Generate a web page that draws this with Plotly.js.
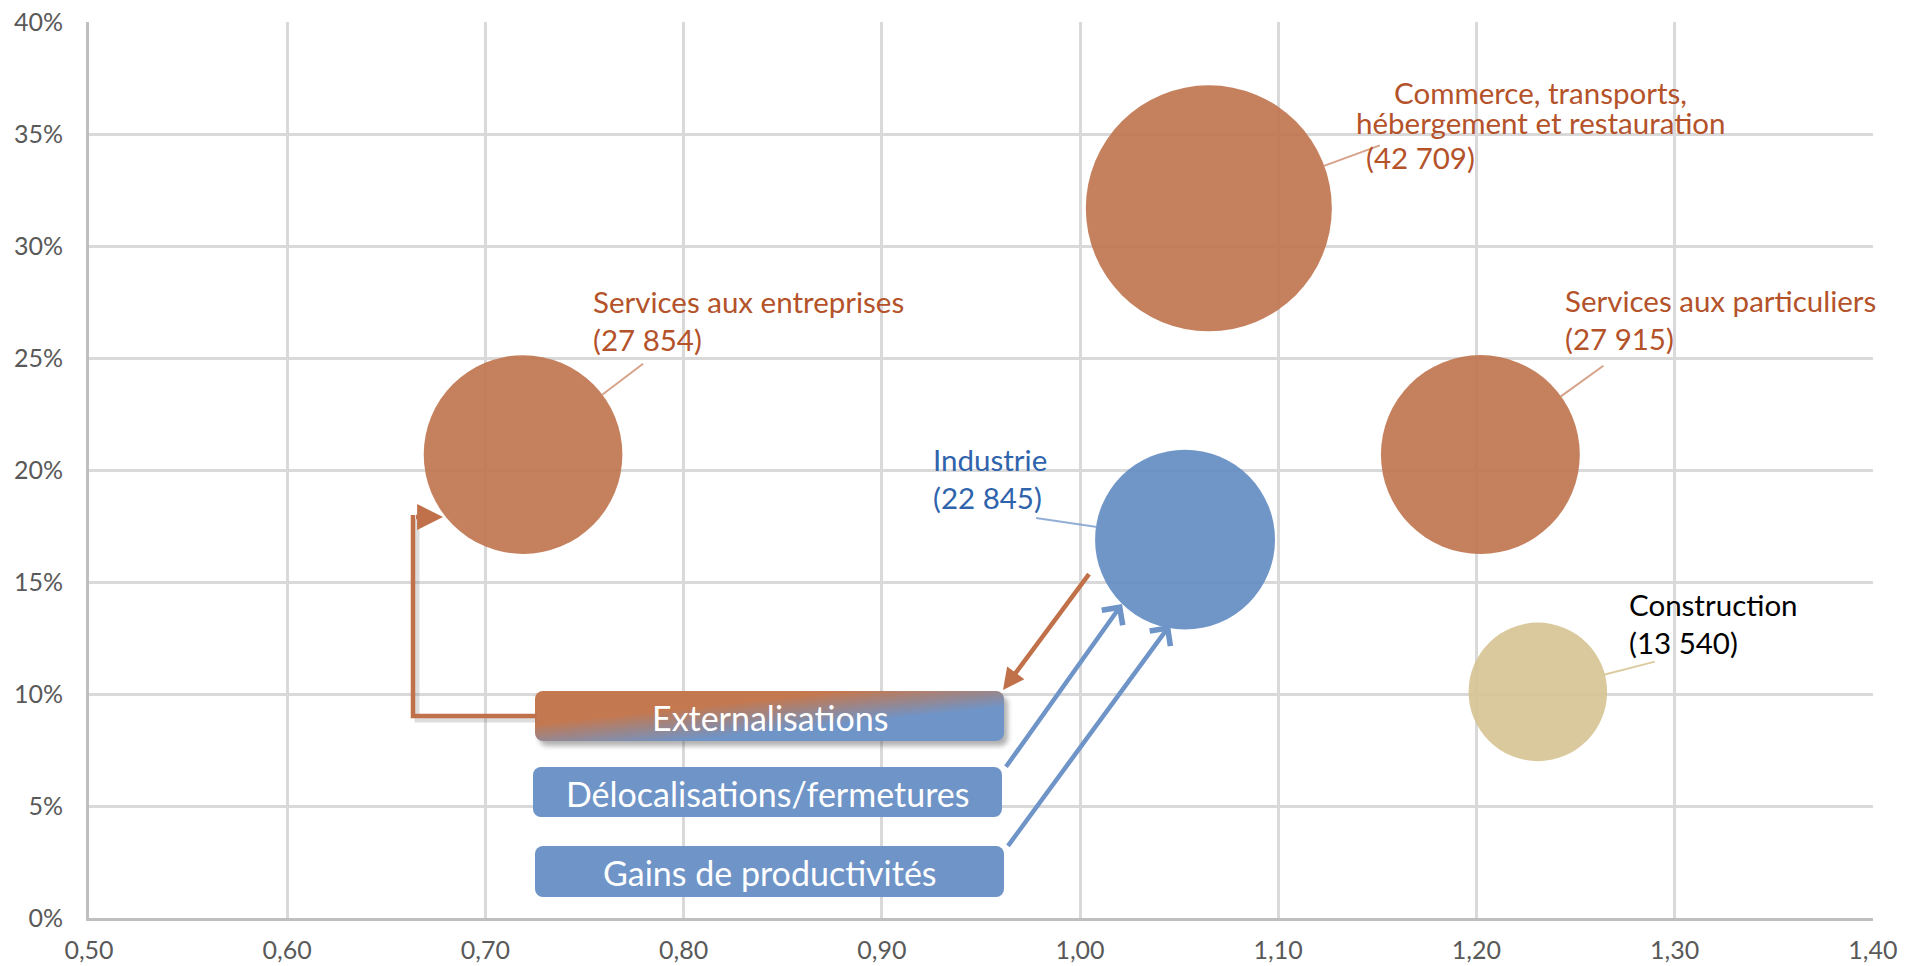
<!DOCTYPE html>
<html><head><meta charset="utf-8">
<script src="https://cdn.plot.ly/plotly-3.0.1.min.js"></script>
<style>html,body{margin:0;padding:0;background:#fff;} #chart{width:1905px;height:966px;}</style>
</head><body><div id="chart"></div>
<script>
// ---- Data ----
const sectors = ['Services aux entreprises', 'Commerce, transports, hébergement et restauration', 'Services aux particuliers', 'Industrie', 'Construction'];
const labelLines = [['Services aux entreprises'], ['Commerce, transports,', 'hébergement et restauration'], ['Services aux particuliers'], ['Industrie'], ['Construction']];
const ratio = [0.719, 1.065, 1.202, 1.053, 1.231];      // x
const share = [0.207, 0.317, 0.207, 0.169, 0.101];      // y
const emploi = [27854, 42709, 27915, 22845, 13540];     // bubble size
const boxLabels = ['Externalisations', 'Délocalisations/fermetures', 'Gains de productivités'];

// ---- Styles ----
const FONT = 'Lato, "Open Sans", sans-serif';
const BROWN = '#BF724B', BLUE = '#6089C1', TAN = '#D5C391';
const bubbleColors = [BROWN, BROWN, BROWN, BLUE, TAN];
const textColors = ['#B4522A', '#B4522A', '#B4522A', '#2F63AC', '#000000'];
const leaderColors = ['rgba(205,140,110,0.8)', 'rgba(205,140,110,0.8)', 'rgba(205,140,110,0.8)', 'rgba(120,155,205,0.8)', 'rgba(215,195,145,0.85)'];
const maxDiam = 246;
const maxEmp = Math.max(...emploi);
const sizeref = 2 * maxEmp / (maxDiam * maxDiam);
const radius = v => (maxDiam / 2) * Math.sqrt(v / maxEmp);
const fmt = v => '(' + String(v).replace(/\B(?=(\d{3})+(?!\d))/g, ' ') + ')';

// label placement (pixel offsets from bubble centre): [xshift, yshift, anchor]
const labelPos = [[68, 134, 'left'], [332, 101, 'center'], [83, 135, 'left'], [-254, 61, 'left'], [89, 68, 'left']];
const leaderEnd = [[123, -93], [174, -64], [126, -91], [-152, -22], [120, -31]];

// plot area in pixels
const L = 89, R = 1873, T = 22, B = 918;
const px = x => (x - L) / (R - L);
const py = y => (B - y) / (B - T);

const trace = {
  type: 'scatter', mode: 'markers', x: ratio, y: share, text: sectors,
  hovertemplate: '%{text}<br>%{x:.2f} ; %{y:.1%}<extra></extra>',
  marker: { size: emploi, sizemode: 'area', sizeref: sizeref, color: bubbleColors, opacity: 0.9, line: { width: 0 } }
};

const annotations = [];
sectors.forEach((s, i) => {
  // leader line
  annotations.push({ x: ratio[i], y: share[i], xref: 'x', yref: 'y', showarrow: true, arrowhead: 0,
    arrowwidth: 2, arrowcolor: leaderColors[i], ax: leaderEnd[i][0], ay: leaderEnd[i][1], standoff: radius(emploi[i]) - 1 });
  const [xs, ys, anc] = labelPos[i];
  const f = { family: FONT, size: 29.5, color: textColors[i] };
  if (labelLines[i].length > 1) {
    labelLines[i].forEach((ln, k) => {
      annotations.push({ x: ratio[i], y: share[i], xref: 'x', yref: 'y', showarrow: false, text: ln,
        xanchor: 'center', yanchor: 'middle', xshift: xs, yshift: ys + 15 - 30 * k, font: f, borderpad: 0 });
    });
    annotations.push({ x: ratio[i], y: share[i], xref: 'x', yref: 'y', showarrow: false, text: fmt(emploi[i]),
      xanchor: 'left', yanchor: 'middle', xshift: 155, yshift: 51, font: f });
  } else {
    annotations.push({ x: ratio[i], y: share[i], xref: 'x', yref: 'y', showarrow: false,
      text: labelLines[i][0] + '<br>' + fmt(emploi[i]), align: 'left',
      xanchor: anc, yanchor: 'middle', xshift: xs, yshift: ys, font: f });
  }
});

// flow boxes
const boxes = [[535, 691, 1004, 741], [533, 767, 1002, 817], [535, 846, 1004, 897]];
function boxSVG(w, h, kind) {
  let defs = '', fill, shadow = '';
  if (kind === 'grad') {
    defs = '<defs><linearGradient id="g" x1="0" y1="0" x2="1" y2="1"><stop offset="0.33" stop-color="#C4784F"/><stop offset="0.66" stop-color="#6F94C7"/></linearGradient>' +
      '<filter id="s" x="-5%" y="-20%" width="110%" height="150%"><feGaussianBlur stdDeviation="2.5"/></filter></defs>';
    fill = 'url(#g)';
    shadow = `<rect x="4" y="5" width="${w}" height="${h}" rx="8" fill="#555" opacity="0.45" filter="url(#s)"/>`;
  } else { fill = '#6F94C7'; }
  const svg = `<svg xmlns="http://www.w3.org/2000/svg" width="${w + 10}" height="${h + 10}" viewBox="0 0 ${w + 10} ${h + 10}">${defs}${shadow}<rect x="0" y="0" width="${w}" height="${h}" rx="8" fill="${fill}"/></svg>`;
  return 'data:image/svg+xml;charset=utf-8,' + encodeURIComponent(svg);
}
const images = boxes.map((b, i) => {
  const w = b[2] - b[0], h = b[3] - b[1];
  return { source: boxSVG(w, h, i === 0 ? 'grad' : 'flat'), xref: 'paper', yref: 'paper',
    x: px(b[0]), y: py(b[1]), sizex: (w + 10) / (R - L), sizey: (h + 10) / (B - T),
    xanchor: 'left', yanchor: 'top', sizing: 'stretch', layer: 'above' };
});
boxes.forEach((b, i) => {
  annotations.push({ xref: 'paper', yref: 'paper', x: px((b[0] + b[2]) / 2), y: py((b[1] + b[3]) / 2 + 1),
    text: boxLabels[i], showarrow: false, xanchor: 'center', yanchor: 'middle',
    font: { family: FONT, size: 34, color: '#FFFFFF' } });
});

// arrows: [tailX, tailY, headX, headY, color, head, size]
const ARROW_BROWN = '#C0714A', ARROW_BLUE = '#6F94C7';
const arrows = [
  [413, 517, 443, 517, ARROW_BROWN, 2, 1.15],
  [1092, 570, 1003, 690, ARROW_BROWN, 2, 0.95],
  [1003, 771, 1122, 604, ARROW_BLUE, 4, 1.1],
  [1005, 850, 1170, 625, ARROW_BLUE, 4, 1.1]
];
// soft shadows under the brown connectors
const shapes = [
  { type: 'path', xref: 'paper', yref: 'paper', layer: 'above',
    path: `M ${px(537)},${py(720)} L ${px(417)},${py(720)} L ${px(417)},${py(519)}`,
    line: { color: 'rgba(120,120,120,0.25)', width: 5 } },
  { type: 'path', xref: 'paper', yref: 'paper', layer: 'above',
    path: `M ${px(537)},${py(716)} L ${px(413)},${py(716)} L ${px(413)},${py(515)}`,
    line: { color: ARROW_BROWN, width: 4.5 } }
];
arrows.forEach(a => {
  annotations.push({ xref: 'paper', yref: 'paper', x: px(a[2]), y: py(a[3]), ax: a[0] - a[2], ay: a[1] - a[3],
    axref: 'pixel', ayref: 'pixel', showarrow: true, arrowhead: a[5], arrowsize: a[6],
    arrowwidth: 4.5, arrowcolor: a[4], standoff: 0, startstandoff: 0 });
});

const axisCommon = {
  showgrid: true, gridcolor: '#D9D9D9', gridwidth: 2.5, zeroline: false,
  showline: true, linecolor: '#BFBFBF', linewidth: 3, ticks: '',
  tickfont: { family: FONT, size: 25, color: '#595959' }
};

const layout = {
  width: 1905, height: 966, margin: { l: L, r: 1905 - R, t: T, b: 966 - B },
  paper_bgcolor: '#FFFFFF', plot_bgcolor: '#FFFFFF', showlegend: false,
  separators: ', ',
  xaxis: Object.assign({}, axisCommon, { range: [0.5, 1.4001], tick0: 0.5, dtick: 0.1, tickformat: '.2f', ticklabelstandoff: 8 }),
  yaxis: Object.assign({}, axisCommon, { range: [0, 0.4002], tick0: 0, dtick: 0.05, tickformat: '.0%', ticklabelstandoff: 18 }),
  annotations: annotations, shapes: shapes, images: images
};

Plotly.newPlot('chart', [trace], layout, { displayModeBar: false });
</script>
</body></html>
